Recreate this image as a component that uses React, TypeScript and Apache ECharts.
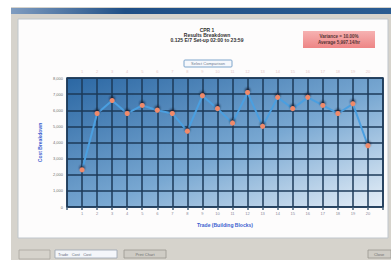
import React, { useEffect, useRef } from "react";
import * as echarts from "echarts";

const titleLines = ["CPR 1", "Results Breakdown", "0.125 E/7 Set-up 02:00 to 23:59"];
const noteLines = ["Variance = 10.00%", "Average 5,997.14/hr"];
const buttonText = "Select Comparison";
const yAxisTitle = "Cost Breakdown";
const xAxisTitle = "Trade (Building Blocks)";
const positions = [1, 2, 3, 4, 5, 6, 7, 8, 9, 10, 11, 12, 13, 14, 15, 16, 17, 18, 19, 20];
const values = [2300, 5800, 6600, 5800, 6300, 6000, 5800, 4700, 6900, 6100, 5200, 7100, 5000, 6800, 6100, 6800, 6300, 5800, 6400, 3800];
const xMin = 0;
const xMax = 21;
const yMin = 0;
const yMax = 8000;
const yStep = 1000;

export default function App() {
  const ref = useRef<HTMLDivElement>(null);
  useEffect(() => {
    if (!ref.current) return;
    const chart = echarts.init(ref.current, null, { renderer: "svg" });
    const data = positions.map((p, i) => [p, values[i]]);
    chart.setOption({
      animation: false,
      backgroundColor: "#ffffff",
      textStyle: { fontFamily: "Liberation Sans, Arial, sans-serif" },
      graphic: [
        { type: "rect", z: -10, shape: { x: 11, y: 7, width: 380, height: 253 }, style: { fill: "#d6d3cc" } },
        {
          type: "rect", z: -9, shape: { x: 11, y: 8, width: 380, height: 6 },
          style: { fill: new echarts.graphic.LinearGradient(0, 0, 1, 0, [
            { offset: 0, color: "#7f9cc0" }, { offset: 0.3, color: "#1f4f86" }, { offset: 1, color: "#2a5c92" },
          ]) },
        },
        { type: "rect", z: -8, shape: { x: 18, y: 19, width: 370, height: 219 }, style: { fill: "#fdfcfc", stroke: "#bfc6cc", lineWidth: 1 } },
        { type: "rect", z: -8, shape: { x: 19, y: 250, width: 31, height: 9 }, style: { fill: "#d6d3cc", stroke: "#a9a6a0", lineWidth: 0.8 } },
        { type: "rect", z: -8, shape: { x: 55, y: 250, width: 62, height: 8 }, style: { fill: "#f4f6fa", stroke: "#9aa3b0", lineWidth: 0.8 } },
        { type: "text", z: -7, style: { x: 58, y: 254, text: "Trade   Cost   Cost", fontSize: 4, fill: "#6a7080", verticalAlign: "middle" } },
        { type: "rect", z: -8, shape: { x: 124, y: 250, width: 42, height: 8 }, style: { fill: "#cfccc5", stroke: "#9a9790", lineWidth: 0.8 } },
        { type: "text", z: -7, style: { x: 145, y: 254, text: "Print Chart", fontSize: 4, fill: "#707070", align: "center", verticalAlign: "middle" } },
        { type: "rect", z: -8, shape: { x: 368, y: 250, width: 23, height: 8 }, style: { fill: "#cfccc5", stroke: "#9a9790", lineWidth: 0.8 } },
        { type: "text", z: -7, style: { x: 379, y: 254, text: "Close", fontSize: 4, fill: "#707070", align: "center", verticalAlign: "middle" } },
        { type: "text", style: { x: 207, y: 30, text: titleLines[0], fontSize: 5, fontWeight: "bold", fill: "#333", align: "center", verticalAlign: "middle" } },
        { type: "text", style: { x: 207, y: 35, text: titleLines[1], fontSize: 5, fontWeight: "bold", fill: "#333", align: "center", verticalAlign: "middle" } },
        { type: "text", style: { x: 207, y: 40, text: titleLines[2], fontSize: 5, fontWeight: "bold", fill: "#333", align: "center", verticalAlign: "middle" } },
        { type: "rect", shape: { x: 184, y: 60, width: 48, height: 7, r: 1 }, style: { fill: "#f6f8fc", stroke: "#7ea6cc", lineWidth: 1 } },
        { type: "text", style: { x: 208, y: 63.5, text: buttonText, fontSize: 4, fill: "#6a7a90", align: "center", verticalAlign: "middle" } },
        {
          type: "rect", shape: { x: 303, y: 31, width: 72, height: 17 },
          style: { fill: new echarts.graphic.LinearGradient(0, 0, 0, 1, [
            { offset: 0, color: "#f6b2b2" }, { offset: 1, color: "#ee8585" },
          ]) },
        },
        { type: "text", style: { x: 339, y: 36, text: noteLines[0], fontSize: 4.5, fontWeight: "bold", fill: "#553333", align: "center", verticalAlign: "middle" } },
        { type: "text", style: { x: 339, y: 42, text: noteLines[1], fontSize: 4.5, fontWeight: "bold", fill: "#553333", align: "center", verticalAlign: "middle" } },
      ],
      grid: {
        left: 67, right: 8, top: 78, bottom: 53, show: true,
        borderColor: "#1d3a58", borderWidth: 1.5,
        backgroundColor: new echarts.graphic.LinearGradient(0, 0, 1, 1, [
          { offset: 0, color: "#2b67a3" }, { offset: 0.55, color: "#79a8d2" }, { offset: 1, color: "#e6eff8" },
        ]),
      },
      xAxis: [
        {
          type: "value", min: xMin, max: xMax, interval: 1,
          name: xAxisTitle, nameLocation: "middle", nameGap: 15,
          nameTextStyle: { fontSize: 5, fontWeight: "bold", color: "#3a5fd0" },
          axisLine: { show: false },
          axisTick: { show: true, length: 3, lineStyle: { color: "#45607a", width: 1.5 } },
          axisLabel: { fontSize: 4, color: "#8a8a9a", margin: 4, formatter: (v: number) => (v >= 1 && v <= 20 ? String(v) : "") },
          splitLine: { show: true, lineStyle: { color: "#1d3a58", width: 1.5 } },
        },
        {
          type: "value", min: xMin, max: xMax, interval: 1, position: "top",
          axisLine: { show: false }, axisTick: { show: false },
          axisLabel: { fontSize: 4, color: "#e6c8c8", margin: 5, formatter: (v: number) => (v >= 1 && v <= 20 ? String(v) : "") },
          splitLine: { show: false },
        },
      ],
      yAxis: {
        type: "value", min: yMin, max: yMax, interval: yStep,
        name: yAxisTitle, nameLocation: "middle", nameGap: 25, nameRotate: 90,
        nameTextStyle: { fontSize: 5, fontWeight: "bold", color: "#3a5fd0" },
        axisLine: { show: false },
        axisTick: { show: false },
        axisLabel: { fontSize: 4, color: "#707070", margin: 4 },
        splitLine: { show: true, lineStyle: { color: "#1d3a58", width: 1.5 } },
      },
      series: [
        {
          type: "line", xAxisIndex: 0, data,
          lineStyle: { color: "#4b9fe0", width: 2 },
          symbol: "circle", symbolSize: 5,
          itemStyle: { color: "#f08a6a", borderColor: "#f08a6a", borderWidth: 0, shadowColor: "rgba(20,30,50,0.9)", shadowBlur: 2, shadowOffsetY: -2 },
        },
      ],
    });
    return () => chart.dispose();
  }, []);
  return <div ref={ref} style={{ position: "absolute", left: 0, top: 0, width: 391, height: 260 }} />;
}
